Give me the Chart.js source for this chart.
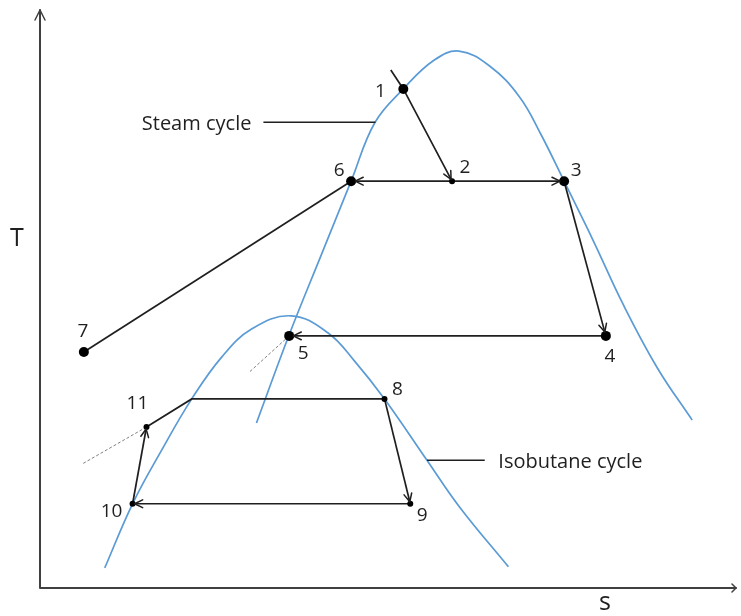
<!DOCTYPE html>
<html>
<head>
<meta charset="utf-8">
<script src="https://cdn.jsdelivr.net/npm/chart.js@4.4.1/dist/chart.umd.min.js"></script>
<style>
    html, body { margin: 0; padding: 0; background: #fff; }
    #wrap { width: 741px; height: 616px; position: relative; }
</style>
</head>
<body>
<div id="wrap"><canvas id="tsChart"></canvas></div>
<script>
(function () {
    'use strict';

    // state points of the two cycles (s, T in arbitrary units)
    var states = ['1', '2', '3', '4', '5', '6', '7', '8', '9', '10', '11'];
    var stateS = [52.2, 59.2, 75.3, 81.3, 35.8, 44.7, 6.3, 49.5, 53.2, 13.3, 15.3];
    var stateT = [87.1, 71.0, 71.0, 44.0, 44.0, 71.0, 41.2, 33.0, 14.7, 14.7, 28.1];
    var bigDots = ['1', '3', '4', '5', '6', '7'];

    // helper points: start of line through 1, kink on 11-8 line, ends of dashed lines
    var auxNames = ['a', 'j', 'd5', 'd11'];
    var auxS = [50.4, 21.8, 30.1, 6.0];
    var auxT = [90.4, 33.0, 37.7, 21.6];

    // saturation domes
    var steamDomeS = [31.1, 35.8, 40.4, 44.7, 48.1, 52.2, 56.6, 60.2, 64.6, 68.9, 72.0, 75.3, 79.5, 83.7, 88.7, 93.7];
    var steamDomeT = [28.8, 44.2, 58.1, 71.0, 81.2, 87.1, 92.1, 93.7, 91.1, 85.7, 79.1, 71.0, 60.6, 49.7, 38.4, 29.3];
    var isoDomeS = [9.3, 13.3, 17.5, 21.8, 26.1, 30.4, 36.1, 41.4, 45.2, 49.5, 55.6, 60.3, 67.3];
    var isoDomeT = [3.5, 14.7, 24.1, 33.0, 40.3, 45.2, 47.5, 44.5, 39.6, 33.0, 22.3, 14.1, 3.7];

    var solidPaths = [
        ['a', '1', '2'], ['6', '2', '3'], ['3', '4'], ['4', '5'], ['7', '6'],
        ['11', 'j', '8'], ['8', '9'], ['9', '10'], ['10', '11']
    ];
    var dashedPaths = [['5', 'd5'], ['11', 'd11']];
    var arrows = [['1', '2'], ['2', '6'], ['2', '3'], ['3', '4'], ['4', '5'], ['8', '9'], ['9', '10'], ['10', '11']];

    var notes = ['Steam cycle', 'Isobutane cycle'];
    var noteS = [22.5, 76.2];
    var noteT = [81.0, 22.0];
    var noteLineS = [[32.1, 48.2], [55.6, 63.9]];
    var noteLineT = [81.3, 22.3];

    var axisTitles = ['T', 's'];

    function pt(name) {
        var i = states.indexOf(name);
        if (i >= 0) return { x: stateS[i], y: stateT[i] };
        i = auxNames.indexOf(name);
        return { x: auxS[i], y: auxT[i] };
    }

    var FONT = '"Open Sans", "DejaVu Sans", sans-serif';
    var INK = '#1f1f1f';
    var BLUE = '#5b9bd5';

    // pixel offsets of the state numbers from their dots
    var labelOffsets = {
        '1': [-23, 3], '2': [13, -14], '3': [12, -11], '4': [4, 21], '5': [14, 18], '6': [-12, -11],
        '7': [-1, -20], '8': [13, -9], '9': [12, 12], '10': [-21, 8], '11': [-9, -23]
    };

    function dotRadius(name) {
        return bigDots.indexOf(name) >= 0 ? 5 : 3;
    }

    var datasets = [];

    datasets.push({
        data: states.map(function (n) { return pt(n); }),
        showLine: false,
        pointRadius: states.map(dotRadius),
        pointBackgroundColor: '#000',
        pointBorderWidth: 0
    });

    solidPaths.forEach(function (p) {
        datasets.push({
            data: p.map(pt),
            showLine: true,
            borderColor: INK,
            borderWidth: 1.7,
            pointRadius: 0,
            tension: 0
        });
    });

    dashedPaths.forEach(function (p) {
        datasets.push({
            data: p.map(pt),
            showLine: true,
            borderColor: '#808080',
            borderWidth: 1,
            borderDash: [3, 2],
            pointRadius: 0
        });
    });

    notes.forEach(function (n, i) {
        datasets.push({
            data: noteLineS[i].map(function (s) { return { x: s, y: noteLineT[i] }; }),
            showLine: true,
            borderColor: INK,
            borderWidth: 1.5,
            pointRadius: 0
        });
    });

    [[steamDomeS, steamDomeT], [isoDomeS, isoDomeT]].forEach(function (d) {
        datasets.push({
            data: d[0].map(function (s, i) { return { x: s, y: d[1][i] }; }),
            showLine: true,
            borderColor: BLUE,
            borderWidth: 1.7,
            pointRadius: 0,
            tension: 0.4
        });
    });

    var decor = {
        id: 'decor',
        afterDatasetsDraw: function (chart) {
            var ctx = chart.ctx;
            var xs = chart.scales.x, ys = chart.scales.y;
            var area = chart.chartArea;
            function px(p) { return { x: xs.getPixelForValue(p.x), y: ys.getPixelForValue(p.y) }; }

            ctx.save();
            ctx.lineCap = 'round';
            ctx.lineJoin = 'round';

            // axes
            ctx.strokeStyle = '#404040';
            ctx.lineWidth = 2;
            ctx.beginPath();
            ctx.moveTo(area.left, area.top - 5);
            ctx.lineTo(area.left, area.bottom);
            ctx.lineTo(area.right, area.bottom);
            ctx.stroke();
            ctx.lineWidth = 1.5;
            ctx.beginPath();
            ctx.moveTo(area.left - 5, area.top + 5);
            ctx.lineTo(area.left, area.top - 5);
            ctx.lineTo(area.left + 5, area.top + 5);
            ctx.moveTo(area.right - 4, area.bottom - 4);
            ctx.lineTo(area.right, area.bottom);
            ctx.lineTo(area.right - 4, area.bottom + 4);
            ctx.stroke();

            // arrowheads
            ctx.strokeStyle = INK;
            ctx.lineWidth = 1.5;
            arrows.forEach(function (a) {
                var f = px(pt(a[0])), t = px(pt(a[1]));
                var ang = Math.atan2(t.y - f.y, t.x - f.x);
                var off = dotRadius(a[1]) - 1;
                var tx = t.x - off * Math.cos(ang), ty = t.y - off * Math.sin(ang);
                var len = 9, spread = 0.45;
                ctx.beginPath();
                ctx.moveTo(tx - len * Math.cos(ang - spread), ty - len * Math.sin(ang - spread));
                ctx.lineTo(tx, ty);
                ctx.lineTo(tx - len * Math.cos(ang + spread), ty - len * Math.sin(ang + spread));
                ctx.stroke();
            });

            // state numbers
            ctx.fillStyle = INK;
            ctx.textAlign = 'center';
            ctx.textBaseline = 'middle';
            ctx.font = '19px ' + FONT;
            states.forEach(function (n) {
                var p = px(pt(n));
                var o = labelOffsets[n];
                ctx.fillText(n, p.x + o[0], p.y + o[1]);
            });

            // cycle notes
            ctx.font = '20px ' + FONT;
            notes.forEach(function (n, i) {
                var p = px({ x: noteS[i], y: noteT[i] });
                ctx.fillText(n, p.x, p.y);
            });

            // axis titles
            ctx.font = '25px ' + FONT;
            ctx.fillText(axisTitles[0], area.left - 23, 239);
            ctx.fillText(axisTitles[1], 605, area.bottom + 15);

            ctx.restore();
        }
    };

    new Chart(document.getElementById('tsChart'), {
        type: 'scatter',
        data: { datasets: datasets },
        options: {
            responsive: true,
            maintainAspectRatio: false,
            animation: false,
            events: [],
            layout: { padding: { left: 40, top: 15, right: 0, bottom: 28 } },
            plugins: { legend: { display: false }, tooltip: { enabled: false } },
            scales: {
                x: { type: 'linear', min: 0, max: 100, display: false },
                y: { type: 'linear', min: 0, max: 100, display: false }
            }
        },
        plugins: [decor]
    });
})();
</script>
</body>
</html>
